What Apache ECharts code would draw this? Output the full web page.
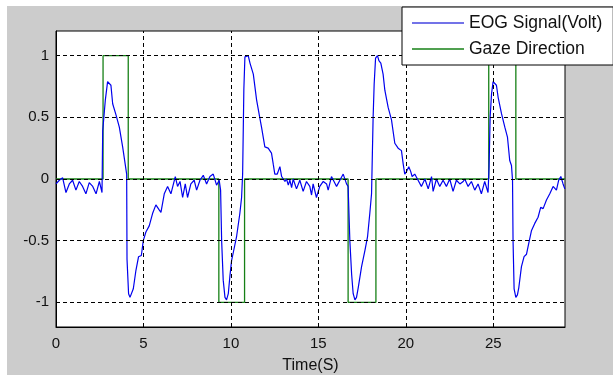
<!DOCTYPE html>
<html>
<head>
<meta charset="utf-8">
<script src="https://cdn.jsdelivr.net/npm/echarts@6/dist/echarts.min.js"></script>
<style>
html,body{margin:0;padding:0;background:#ffffff;}
#chart{width:613px;height:375px;}
</style>
</head>
<body>
<div id="chart"></div>
<script>
// ---- data ----
var seriesNames = ['EOG Signal(Volt)', 'Gaze Direction'];
var xTicks = [0, 5, 10, 15, 20, 25];
var yTicks = [-1, -0.5, 0, 0.5, 1];
var xName = 'Time(S)';

var eogTime = [0,0.19,0.38,0.57,0.76,0.95,1.14,1.33,1.52,1.71,1.90,2.10,2.29,2.48,2.63,2.66,2.67,2.82,2.95,3.05,3.14,3.24,3.43,3.62,3.81,4.04,4.06,4.15,4.23,4.34,4.42,4.57,4.72,4.88,4.99,5.14,5.33,5.52,5.71,5.90,6.00,6.19,6.38,6.57,6.82,6.95,7.09,7.24,7.39,7.52,7.71,7.90,
8.04,8.23,8.42,8.61,8.80,8.99,9.18,9.33,9.41,9.47,9.56,9.66,9.75,9.85,9.94,10.04,10.13,10.32,10.51,10.61,10.67,10.74,10.80,10.89,10.99,11.09,11.18,11.28,11.47,11.66,11.75,11.94,12.13,12.32,12.42,12.51,12.65,12.80,12.90,12.99,13.09,13.18,13.28,13.37,13.47,13.56,13.75,13.94,14.13,14.32,14.51,14.61,14.70,14.89,15.08,15.28,15.47,
15.56,15.75,15.85,16.04,16.23,16.42,16.61,16.70,16.80,16.90,16.99,17.09,17.18,17.28,17.47,17.66,17.81,17.94,18.04,18.13,18.19,18.27,18.38,18.46,18.57,18.70,18.80,18.99,19.18,19.37,19.56,19.75,19.85,19.94,20.04,20.17,20.28,20.36,20.51,20.70,20.89,21.09,21.28,21.47,21.56,21.75,21.94,22.13,22.32,22.51,22.70,22.89,23.09,23.28,
23.37,23.56,23.75,23.94,24.13,24.32,24.51,24.70,24.76,24.82,24.90,24.99,25.09,25.18,25.28,25.47,25.66,25.81,25.94,26.04,26.10,26.13,26.19,26.29,26.38,26.46,26.61,26.76,26.90,27.03,27.18,27.37,27.56,27.71,27.85,28.04,28.23,28.42,28.61,28.74,28.86,28.99,29.09];
var eogValue = [-0.04,-0.01,0.01,-0.11,-0.04,-0.01,-0.09,-0.02,-0.06,-0.12,-0.03,-0.06,-0.12,-0.02,-0.11,-0.10,0.39,0.64,0.79,0.80,0.76,0.61,0.52,0.42,0.26,0.04,-0.65,-0.93,-0.96,-0.96,-0.89,-0.74,-0.63,-0.62,-0.50,-0.43,-0.38,-0.28,-0.21,-0.25,-0.27,-0.12,-0.06,-0.12,0.02,-0.06,-0.02,-0.15,-0.04,-0.15,-0.04,-0.01,
-0.09,-0.01,0.03,-0.04,0.02,0.04,-0.05,-0.01,-0.09,-0.50,-0.82,-0.96,-0.98,-0.93,-0.79,-0.66,-0.60,-0.47,-0.28,-0.15,0.04,0.73,0.99,0.99,1.00,0.94,0.95,0.85,0.64,0.49,0.42,0.26,0.25,0.21,0.12,0.04,0.04,0.10,0.02,0.03,-0.02,0.00,-0.05,-0.01,-0.07,0.00,-0.08,-0.01,-0.10,-0.02,-0.06,-0.13,-0.04,-0.15,-0.06,-0.02,-0.04,
-0.09,0.02,0.03,-0.06,-0.01,0.04,-0.04,-0.06,-0.50,-0.77,-0.93,-0.98,-0.96,-0.88,-0.71,-0.58,-0.47,-0.28,-0.12,0.50,0.77,0.98,1.00,0.96,0.94,0.85,0.72,0.58,0.48,0.29,0.25,0.23,0.12,0.04,0.06,0.10,0.06,0.02,0.04,-0.01,-0.06,0.00,-0.08,0.02,-0.10,0.00,-0.06,-0.01,-0.06,0.00,-0.10,-0.01,-0.04,-0.02,
0.00,-0.06,-0.02,-0.09,-0.04,-0.12,-0.02,-0.11,0.10,0.50,0.69,0.79,0.80,0.76,0.66,0.53,0.42,0.34,0.15,0.11,-0.01,-0.50,-0.89,-0.96,-0.94,-0.88,-0.71,-0.63,-0.61,-0.52,-0.42,-0.36,-0.31,-0.23,-0.24,-0.17,-0.12,-0.06,-0.09,-0.01,0.02,-0.04,-0.08];

var gazeTime = [0, 2.69, 4.13, 9.31, 10.78, 16.70, 18.29, 24.74, 26.29, 29.1];
var gazeValue = [0, 1, 0, -1, 0, -1, 0, 1, 0, 0];

// ---- build ----
function pairs(xs, ys){ return xs.map(function(x,i){ return [x, ys[i]]; }); }
var gridData = xTicks.filter(function(v){return v>0;}).map(function(v){return {xAxis:v};})
  .concat(yTicks.map(function(v){return {yAxis:v};}));

var font = 'Liberation Sans, Arial, sans-serif';
var blue = '#0000ee', green = '#168016';
var chart = echarts.init(document.getElementById('chart'), null, {renderer:'canvas'});
chart.setOption({
  backgroundColor: '#ffffff',
  animation: false,
  graphic: [{
    type: 'rect', left: 7, top: 6, z: -10,
    shape: {width: 606, height: 369},
    style: {fill: '#cccccc'}
  }],
  grid: {left: 56, right: 48, top: 31, bottom: 48, show: true, containLabel: false,
         outerBoundsMode: 'none',
         backgroundColor: '#ffffff', borderColor: '#000', borderWidth: 1},
  legend: {
    left: 402, top: 7, orient: 'vertical', z: 50, zlevel: 0,
    backgroundColor: '#ffffff', borderColor: '#000', borderWidth: 1,
    padding: [7, 11, 7, 10], itemGap: 8, itemWidth: 52, itemHeight: 1.5,
    icon: 'rect',
    textStyle: {fontFamily: font, fontSize: 17.5, color: '#111', lineHeight: 17},
    data: [
      {name: seriesNames[0], itemStyle: {color: '#4545e0'}},
      {name: seriesNames[1], itemStyle: {color: green}}
    ]
  },
  xAxis: {
    type: 'value', min: 0, max: 29.1,
    name: xName, nameLocation: 'middle', nameGap: 31,
    nameTextStyle: {fontFamily: font, fontSize: 16, color: '#111'},
    axisLine: {show: true, onZero: false, lineStyle: {color: '#000', width: 1}},
    axisTick: {show: false},
    splitLine: {show: false},
    axisLabel: {customValues: xTicks, margin: 9, fontFamily: font, fontSize: 15, color: '#111'}
  },
  yAxis: {
    type: 'value', min: -1.2, max: 1.2,
    axisLine: {show: true, onZero: false, lineStyle: {color: '#000', width: 1}},
    axisTick: {show: false},
    splitLine: {show: false},
    axisLabel: {customValues: yTicks, margin: 7, fontFamily: font, fontSize: 15, color: '#111'}
  },
  series: [
    {
      name: seriesNames[0], type: 'line', data: pairs(eogTime, eogValue),
      symbol: 'none', z: 3,
      lineStyle: {color: blue, width: 1.2}, itemStyle: {color: blue},
      markLine: {
        silent: true, symbol: ['none','none'], animation: false,
        label: {show: false},
        lineStyle: {color: '#000', type: [4, 3], width: 1},
        data: gridData
      }
    },
    {
      name: seriesNames[1], type: 'line', step: 'end', data: pairs(gazeTime, gazeValue),
      symbol: 'none', z: 2,
      lineStyle: {color: green, width: 1.3}, itemStyle: {color: green}
    }
  ]
});
</script>
</body>
</html>
